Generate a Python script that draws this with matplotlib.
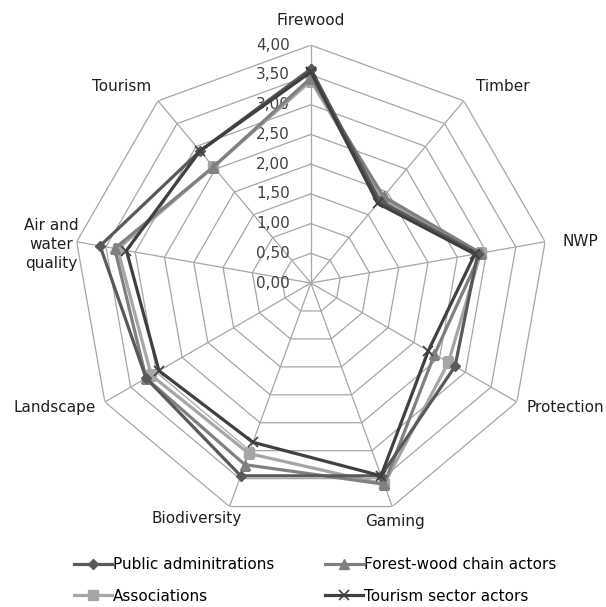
import numpy as np
from matplotlib import pyplot as plt

# categories (clockwise from top) and scores
categories = ["Firewood", "Timber", "NWP", "Protection", "Gaming",
              "Biodiversity", "Landscape", "Air and\nwater\nquality", "Tourism"]
public_adm = [3.60, 1.80, 2.85, 2.80, 3.45, 3.45, 3.20, 3.60, 2.90]
forest_wood = [3.45, 1.90, 2.90, 2.40, 3.60, 3.25, 3.20, 3.35, 2.55]
associations = [3.40, 1.85, 2.90, 2.67, 3.60, 3.05, 3.10, 3.30, 2.55]
tourism_actors = [3.55, 1.75, 2.80, 2.28, 3.45, 2.85, 2.95, 3.15, 2.90]
ring_values = [0.0, 0.5, 1.0, 1.5, 2.0, 2.5, 3.0, 3.5, 4.0]
ring_labels = ["0,00", "0,50", "1,00", "1,50", "2,00", "2,50", "3,00", "3,50", "4,00"]

n = len(categories)
theta = np.linspace(0, 2 * np.pi, n, endpoint=False)
theta_c = np.append(theta, theta[0])  # closed polygon

fig = plt.figure(figsize=(6.06, 6.07), dpi=100)
ax = fig.add_axes([0.1205, 0.1417, 0.785, 0.784], projection="polar")
ax.set_theta_zero_location("N")
ax.set_theta_direction(-1)
ax.set_ylim(0, 4.0)
ax.grid(False)
ax.spines["polar"].set_visible(False)
ax.set_xticks([])
ax.set_yticks([])
ax.patch.set_alpha(0)

grid_col = "#a6a6a6"
for r in ring_values[1:]:  # polygon rings
    ax.plot(theta_c, [r] * (n + 1), color=grid_col, lw=0.9, zorder=1)
for t in theta:  # spokes
    ax.plot([t, t], [0, 4.0], color=grid_col, lw=0.9, zorder=1)

# radial tick labels left of the top spoke
for v, lab in zip(ring_values, ring_labels):
    ax.annotate(lab, xy=(0, v), xytext=(-15, 0), textcoords="offset points",
                ha="right", va="center", fontsize=11, color="#404040", zorder=2)

# category labels, offsets in pixels from the outer vertex
label_off = [(0, 25), (39, 14), (35, 0), (48, -6), (3, -15),
             (-33, -12), (-50, -6), (-25, -3), (-36, 14)]
for t, lab, (dx, dy) in zip(theta, categories, label_off):
    ax.annotate(lab, xy=(t, 4.0), xytext=(dx * 0.72, dy * 0.72),
                textcoords="offset points", ha="center", va="center",
                fontsize=11, color="#202020", linespacing=1.35)

l_pub, = ax.plot(theta_c, public_adm + public_adm[:1], color="#595959", lw=2.3,
                 marker="D", ms=5, label="Public adminitrations", zorder=5)
l_for, = ax.plot(theta_c, forest_wood + forest_wood[:1], color="#808080", lw=2.3,
                 marker="^", ms=7, label="Forest-wood chain actors", zorder=4)
l_ass, = ax.plot(theta_c, associations + associations[:1], color="#a6a6a6", lw=2.3,
                 marker="s", ms=7, label="Associations", zorder=3)
l_tou, = ax.plot(theta_c, tourism_actors + tourism_actors[:1], color="#404040", lw=2.3,
                 marker="x", ms=7, mew=1.2, label="Tourism sector actors", zorder=6)

# legend fills by column, so order gives rows Public/Forest and Associations/Tourism
handles = [l_pub, l_ass, l_for, l_tou]
fig.legend(handles=handles, labels=[h.get_label() for h in handles],
           loc="center", bbox_to_anchor=(0.52, 0.044), ncol=2, frameon=False,
           fontsize=11, handlelength=2.5, handletextpad=0.05,
           columnspacing=3.3, labelspacing=1.1)

plt.savefig("out.png", dpi=100)
